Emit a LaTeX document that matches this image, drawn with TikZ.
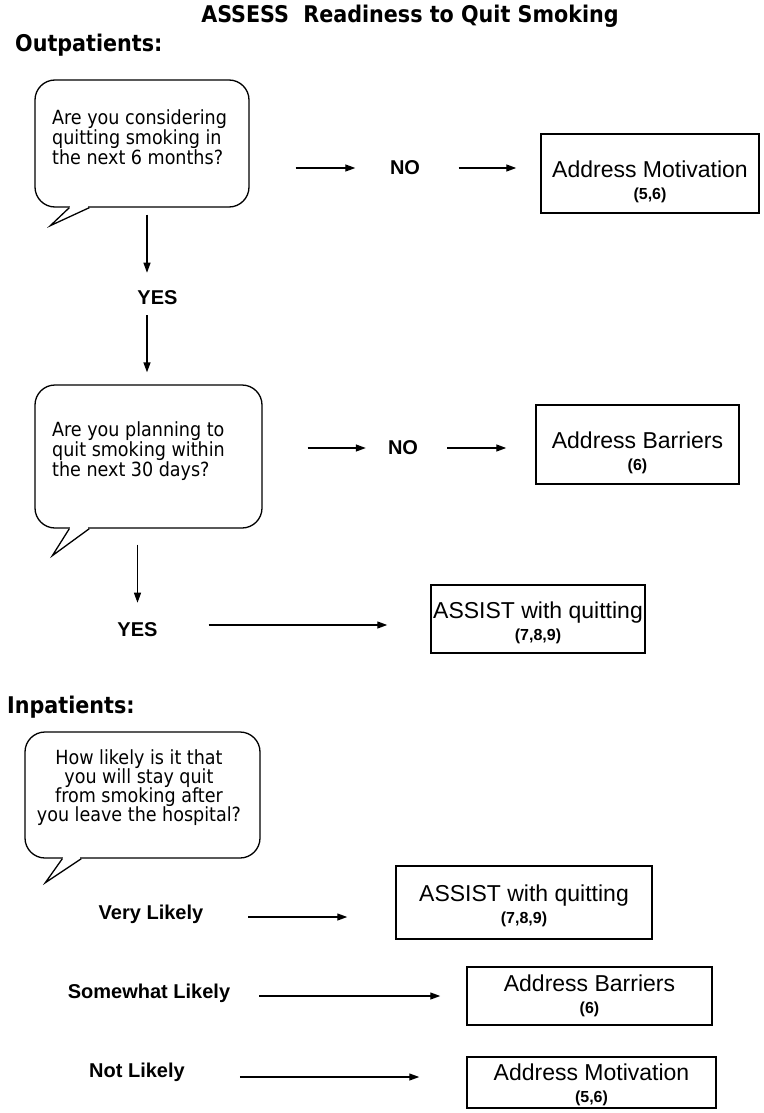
\documentclass[tikz,border=0pt]{standalone}
\usepackage{fontspec}
\setmainfont{DejaVu Sans Condensed}
\newfontfamily\arialf{Liberation Sans}
\usetikzlibrary{arrows.meta}

\tikzset{
  bubble/.style={draw, line width=1.3pt, rounded corners=20pt, inner sep=0pt, fill=white},
  qtext/.style={font=\fontsize{19.5}{20}\selectfont, inner sep=0pt},
  head/.style={font=\bfseries\fontsize{23}{26}\selectfont, inner sep=0pt},
  lab/.style={font=\arialf\bfseries\fontsize{20}{24}\selectfont, inner sep=0pt},
  resbox/.style={draw, line width=1.5pt, align=center, inner sep=0pt,
                 font=\arialf\fontsize{23}{22}\selectfont},
  arr/.style={line width=1.3pt, -{Triangle[length=10pt,width=7pt]}},
  tail/.style={line width=1.3pt, line join=miter}
}
% bold reference numbers under a box title
\newcommand{\refnum}[1]{{\bfseries\fontsize{16}{18}\selectfont #1}}
% first-line strut that lowers a box's text block
\newcommand{\lowerby}[1]{\rule{0pt}{\dimexpr 16.5pt + 2\dimexpr #1pt\relax\relax}}
% speech-bubble tail between named points: left attach, tip, right attach
\newcommand{\bubbletail}[3]{%
  \fill[white] (#1) -- (#2) -- (#3) -- cycle;
  \draw[white, line width=2.6pt] ([xshift=1pt]#1) -- ([xshift=-1pt]#3);
  \draw[tail] (#1) -- (#2) -- (#3);}

\begin{document}
\begin{tikzpicture}[x=1pt, y=-1pt]
\useasboundingbox (0,0) rectangle (763,1113);

% headings
\node[head] (title) at (410,16) {ASSESS~ Readiness to Quit Smoking};
\node[head, anchor=west] (outp) at (15,45) {Outpatients:};
\node[head, anchor=west] (inp) at (7,707) {Inpatients:};

% ---------- outpatients ----------
\node[bubble, minimum width=214pt, minimum height=127pt] (q1) at (142,143.5) {};
\coordinate (q1a) at ([xshift=35pt]q1.south west);
\coordinate (q1b) at ([xshift=55pt]q1.south west);
\coordinate (q1tip) at ([xshift=16pt,yshift=-18pt]q1.south west);
\bubbletail{q1a}{q1tip}{q1b}
\node[qtext, anchor=west, align=left] (q1t) at (52,137)
  {Are you considering\\quitting smoking in\\the next 6 months?};

\node[lab] (no1) at (405,168) {NO};
\node[resbox, minimum width=218pt, minimum height=79pt] (b1) at (650,173.5)
  {\lowerby{8}Address Motivation\\ \refnum{(5,6)}};
\draw[arr, shorten <=46pt, shorten >=34.5pt] (q1.east |- no1.west) -- (no1.west);
\draw[arr, shorten <=38.5pt, shorten >=24pt] (no1.east) -- (no1.east -| b1.west);

\coordinate (d1) at (147,0);
\node[lab] (yes1) at (157.5,298) {YES};
\draw[arr, shorten <=7pt, shorten >=18pt] (q1.south -| d1) -- (yes1.north -| d1);

\node[bubble, minimum width=227pt, minimum height=143pt] (q2) at (148.5,456.5) {};
\coordinate (q2a) at ([xshift=35pt]q2.south west);
\coordinate (q2b) at ([xshift=55pt]q2.south west);
\coordinate (q2tip) at ([xshift=18pt,yshift=-27pt]q2.south west);
\bubbletail{q2a}{q2tip}{q2b}
\node[qtext, anchor=west, align=left] (q2t) at (52,451)
  {Are you planning to\\quit smoking within\\the next 30 days?};
\draw[arr, shorten <=10pt, shorten >=12pt] (yes1.south -| d1) -- (q2.north -| d1);

\node[lab] (no2) at (403,448) {NO};
\node[resbox, minimum width=203pt, minimum height=79pt] (b2) at (637.5,444.5)
  {\lowerby{8}Address Barriers\\ \refnum{(6)}};
\draw[arr, shorten <=45pt, shorten >=22pt] (q2.east |- no2.west) -- (no2.west);
\draw[arr, shorten <=29pt, shorten >=29pt] (no2.east) -- (no2.east -| b2.west);

\node[lab] (yes2) at (137.5,630) {YES};
\draw[arr, shorten <=16pt, shorten >=20pt] (yes2.north |- q2.south) -- (yes2.north);
\node[resbox, minimum width=214pt, minimum height=68pt] (b3) at (538,619)
  {\lowerby{4}ASSIST with quitting\\ \refnum{(7,8,9)}};
\draw[arr, shorten <=51pt, shorten >=43pt] ([yshift=5pt]yes2.east) -- ([yshift=5pt]yes2.east -| b3.west);

% ---------- inpatients ----------
\node[bubble, minimum width=235pt, minimum height=126pt] (q3) at (142.5,795) {};
\coordinate (q3a) at ([xshift=38pt]q3.south west);
\coordinate (q3b) at ([xshift=57pt]q3.south west);
\coordinate (q3tip) at ([xshift=21pt,yshift=-24pt]q3.south west);
\bubbletail{q3a}{q3tip}{q3b}
\node[qtext, align=center, font=\fontsize{19.5}{19}\selectfont] (q3t) at (139,788)
  {How likely is it that\\you will stay quit\\from smoking after\\you leave the hospital?};

\node[lab] (vl) at (151,914) {Very Likely};
\node[resbox, minimum width=256pt, minimum height=73pt] (ra) at (524,902.5)
  {\lowerby{3}ASSIST with quitting\\ \refnum{(7,8,9)}};
\draw[arr, shorten <=45pt, shorten >=48pt] ([yshift=-3pt]vl.east) -- ([yshift=-3pt]vl.east -| ra.west);

\node[lab] (sl) at (149,993) {Somewhat Likely};
\node[resbox, minimum width=245pt, minimum height=58pt] (rb) at (589.5,996)
  {Address Barriers\\ \refnum{(6)}};
\draw[arr, shorten <=29pt, shorten >=26pt] ([yshift=-3pt]sl.east) -- ([yshift=-3pt]sl.east -| rb.west);

\node[lab] (nl) at (137,1072) {Not Likely};
\node[resbox, minimum width=249pt, minimum height=51pt] (rc) at (591.5,1082.5)
  {\lowerby{2}Address Motivation\\ \refnum{(5,6)}};
\draw[arr, shorten <=55pt, shorten >=47pt] ([yshift=-5pt]nl.east) -- ([yshift=-5pt]nl.east -| rc.west);

\end{tikzpicture}
\end{document}
